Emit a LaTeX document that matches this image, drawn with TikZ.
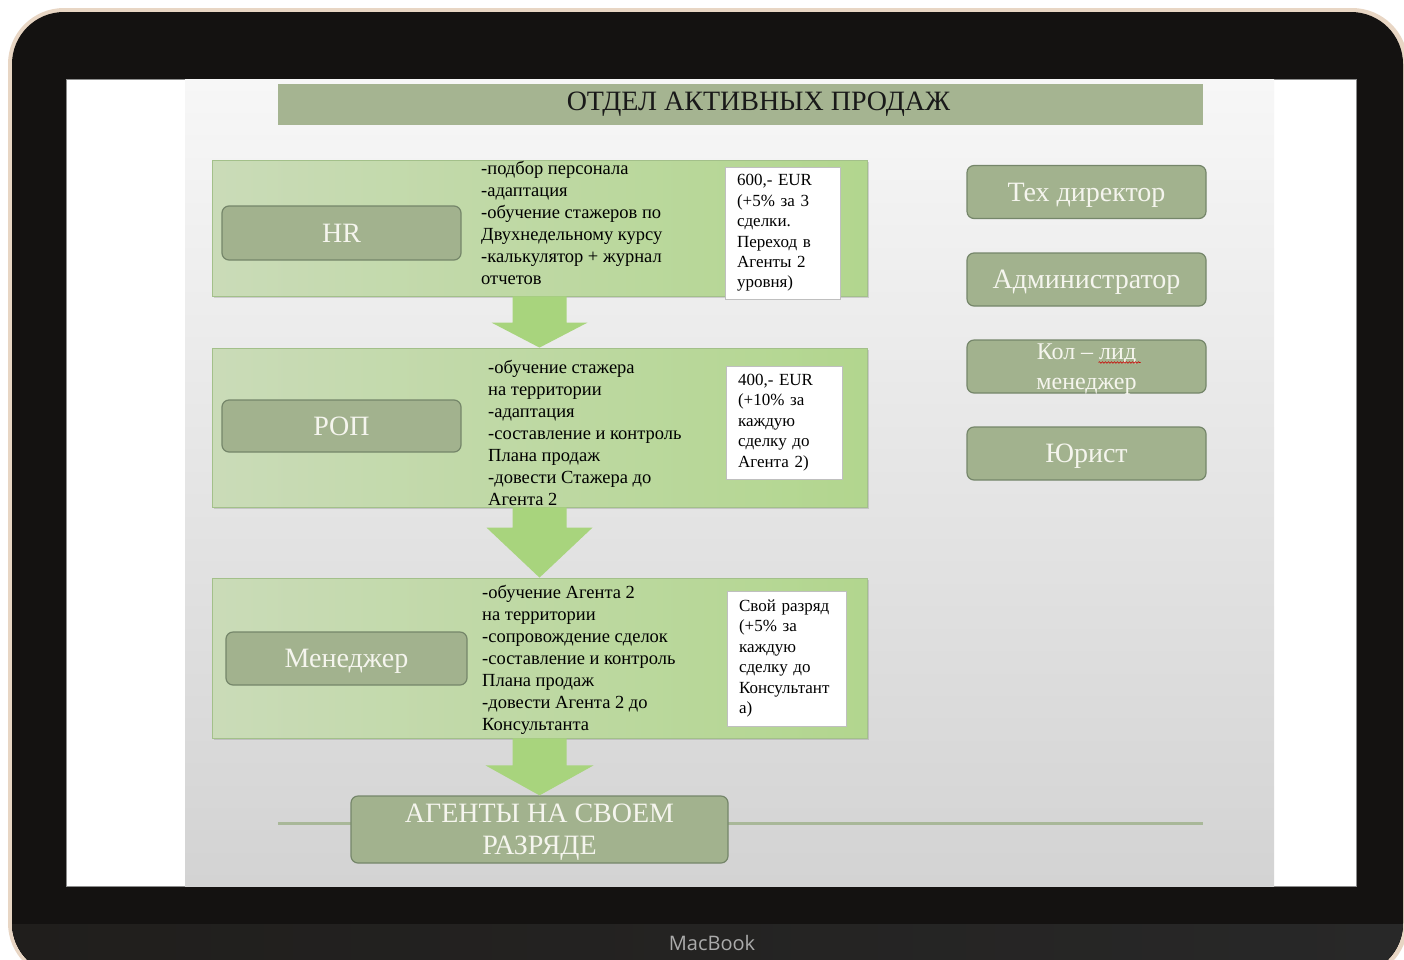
\documentclass[tikz,border=0pt]{standalone}
\usepackage{fontspec}
\setmainfont{Liberation Serif}
\newfontfamily\brandfont{Open Sans}
\usetikzlibrary{calc,shadows,decorations.pathmorphing}

\definecolor{rimbeige}{HTML}{E8D6C4}
\definecolor{bezel}{HTML}{141211}
\definecolor{chinleft}{HTML}{201E1C}
\definecolor{chinright}{HTML}{282828}
\definecolor{brandgray}{HTML}{ABABAB}
\definecolor{slidetop}{HTML}{F7F7F7}
\definecolor{slidebottom}{HTML}{D3D3D3}
\definecolor{titlefill}{HTML}{A5B491}
\definecolor{stageleft}{HTML}{CADBB8}
\definecolor{stageright}{HTML}{B2D68E}
\definecolor{stageedge}{HTML}{A3C08A}
\definecolor{rolefill}{HTML}{A2B28E}
\definecolor{roleedge}{HTML}{75866A}
\definecolor{roletext}{HTML}{F5F5EE}
\definecolor{arrowgreen}{HTML}{A8D47D}
\definecolor{dividergreen}{HTML}{A9B899}

\tikzset{
  titlebar/.style={fill=titlefill, minimum width=925pt, minimum height=41pt,
    inner sep=0pt, text=black!90, font=\fontsize{28}{32}\selectfont},
  stagebox/.style={draw=stageedge, line width=0.8pt, left color=stageleft,
    right color=stageright, minimum width=655pt, inner sep=0pt,
    drop shadow={shadow xshift=2pt, shadow yshift=-2pt, opacity=0.3}},
  rolebox/.style={draw=roleedge, line width=1.2pt, fill=rolefill,
    rounded corners=7pt, text=roletext, inner sep=0pt, align=center,
    text depth=0pt, font=\fontsize{28}{32}\selectfont},
  staffbox/.style={rolebox, minimum width=239pt, minimum height=53pt},
  duties/.style={anchor=north west, inner sep=0pt, align=left,
    font=\fontsize{18.5}{22}\selectfont},
  paybox/.style={draw=black!25, fill=white, inner xsep=12pt, inner ysep=0pt,
    align=left, font=\fontsize{17}{20.4}\selectfont},
  flowarrowfill/.style={fill=arrowgreen},
}

% block arrow from the bottom of #1 to the top of #2
% #3 head length, #4 half width of the head
\newcommand{\flowarrow}[4]{%
  \fill[flowarrowfill] ($(#1.south)+(-27,0)$) -- ($(#1.south)+(27,0)$)
    -- ($(#2.north)+(27,-#3)$) -- ($(#2.north)+(#4,-#3)$) -- (#2.north)
    -- ($(#2.north)+(-#4,-#3)$) -- ($(#2.north)+(-27,-#3)$) -- cycle;}

\begin{document}
\begin{tikzpicture}[x=1pt, y=-1pt]
\useasboundingbox (0,0) rectangle (1404,959);

% laptop
\fill[white] (0,0) rectangle (1404,959);
\fill[rimbeige, rounded corners=56pt] (8,8) rectangle (1408,979);
\fill[bezel, rounded corners=52pt] (12,12) rectangle (1403,975);
\begin{scope}
  \clip[rounded corners=52pt] (12,12) rectangle (1403,975);
  \fill[left color=chinleft, right color=chinright] (0,924) rectangle (1404,975);
\end{scope}
\node[font=\brandfont\fontsize{20}{24}\selectfont, text=brandgray] (brand) at (712,943) {MacBook};

% screen and slide
\fill[white, draw=black!45, line width=0.8pt] (66,79) rectangle (1356,886);
\fill[top color=slidetop, bottom color=slidebottom] (185,79) rectangle (1274,886);

\node[titlebar] (title) at (740.5,104.5) {\hspace*{36pt}ОТДЕЛ АКТИВНЫХ ПРОДАЖ};

% stages
\node[stagebox, minimum height=136pt] (hr) at (539.5,228) {};
\node[stagebox, minimum height=159pt] (rop) at (539.5,427.5) {};
\node[stagebox, minimum height=160pt] (mgr) at (539.5,658) {};

\draw[dividergreen, line width=3pt] (278,823) -- (1203,823);
\node[rolebox, minimum width=377pt, minimum height=67pt] (agents) at (539.5,829.5) {АГЕНТЫ НА СВОЕМ\\РАЗРЯДЕ};

\flowarrow{hr}{rop}{25}{48}
\flowarrow{rop}{mgr}{50}{53}
\flowarrow{mgr}{agents}{30}{54}

% HR
\node[rolebox, minimum width=239pt, minimum height=54pt] (hrrole) at (341.5,233) {HR};
\node[duties] (hrduties) at (481,161.5) {-подбор персонала\\-адаптация\\-обучение стажеров по\\Двухнедельному курсу\\-калькулятор + журнал\\отчетов};
\node[paybox, text width=91pt, minimum height=132pt] (hrpay) at (782.5,233) {600,- EUR\\(+5\% за 3\\сделки.\\Переход в\\Агенты 2\\уровня)};

% ROP
\node[rolebox, minimum width=239pt, minimum height=52pt] (roprole) at (341.5,426) {РОП};
\node[duties] (ropduties) at (488,360.5) {-обучение стажера\\на территории\\-адаптация\\-составление и контроль\\Плана продаж\\-довести Стажера до\\Агента 2};
\node[paybox, text width=92pt, minimum height=113pt] (roppay) at (784,422.5) {400,- EUR\\(+10\% за\\каждую\\сделку до\\Агента 2)};

% manager
\node[rolebox, minimum width=241pt, minimum height=53pt] (mgrrole) at (346.5,658.5) {Менеджер};
\node[duties] (mgrduties) at (482,585.5) {-обучение Агента 2\\на территории\\-сопровождение сделок\\-составление и контроль\\Плана продаж\\-довести Агента 2 до\\Консультанта};
\node[paybox, text width=95pt, minimum height=135pt] (mgrpay) at (786.5,658.5) {Свой разряд\\(+5\% за\\каждую\\сделку до\\Консультант\\а)};

% staff on the right
\node[staffbox] (techdir) at (1086.5,192) {Тех директор};
\node[staffbox] (admin) at (1086.5,279.5) {Администратор};
\node[staffbox, font=\fontsize{24}{30}\selectfont] (calllead) at (1086.5,366.5) {Кол -- лид\\менеджер};
\node[staffbox] (lawyer) at (1086.5,453.5) {Юрист};
\draw[red!80!black, line width=0.6pt, decorate, decoration={snake, amplitude=0.8pt, segment length=3pt}]
  ($(calllead.center)+(12,-4)$) -- ($(calllead.center)+(54,-4)$);
\end{tikzpicture}
\end{document}
